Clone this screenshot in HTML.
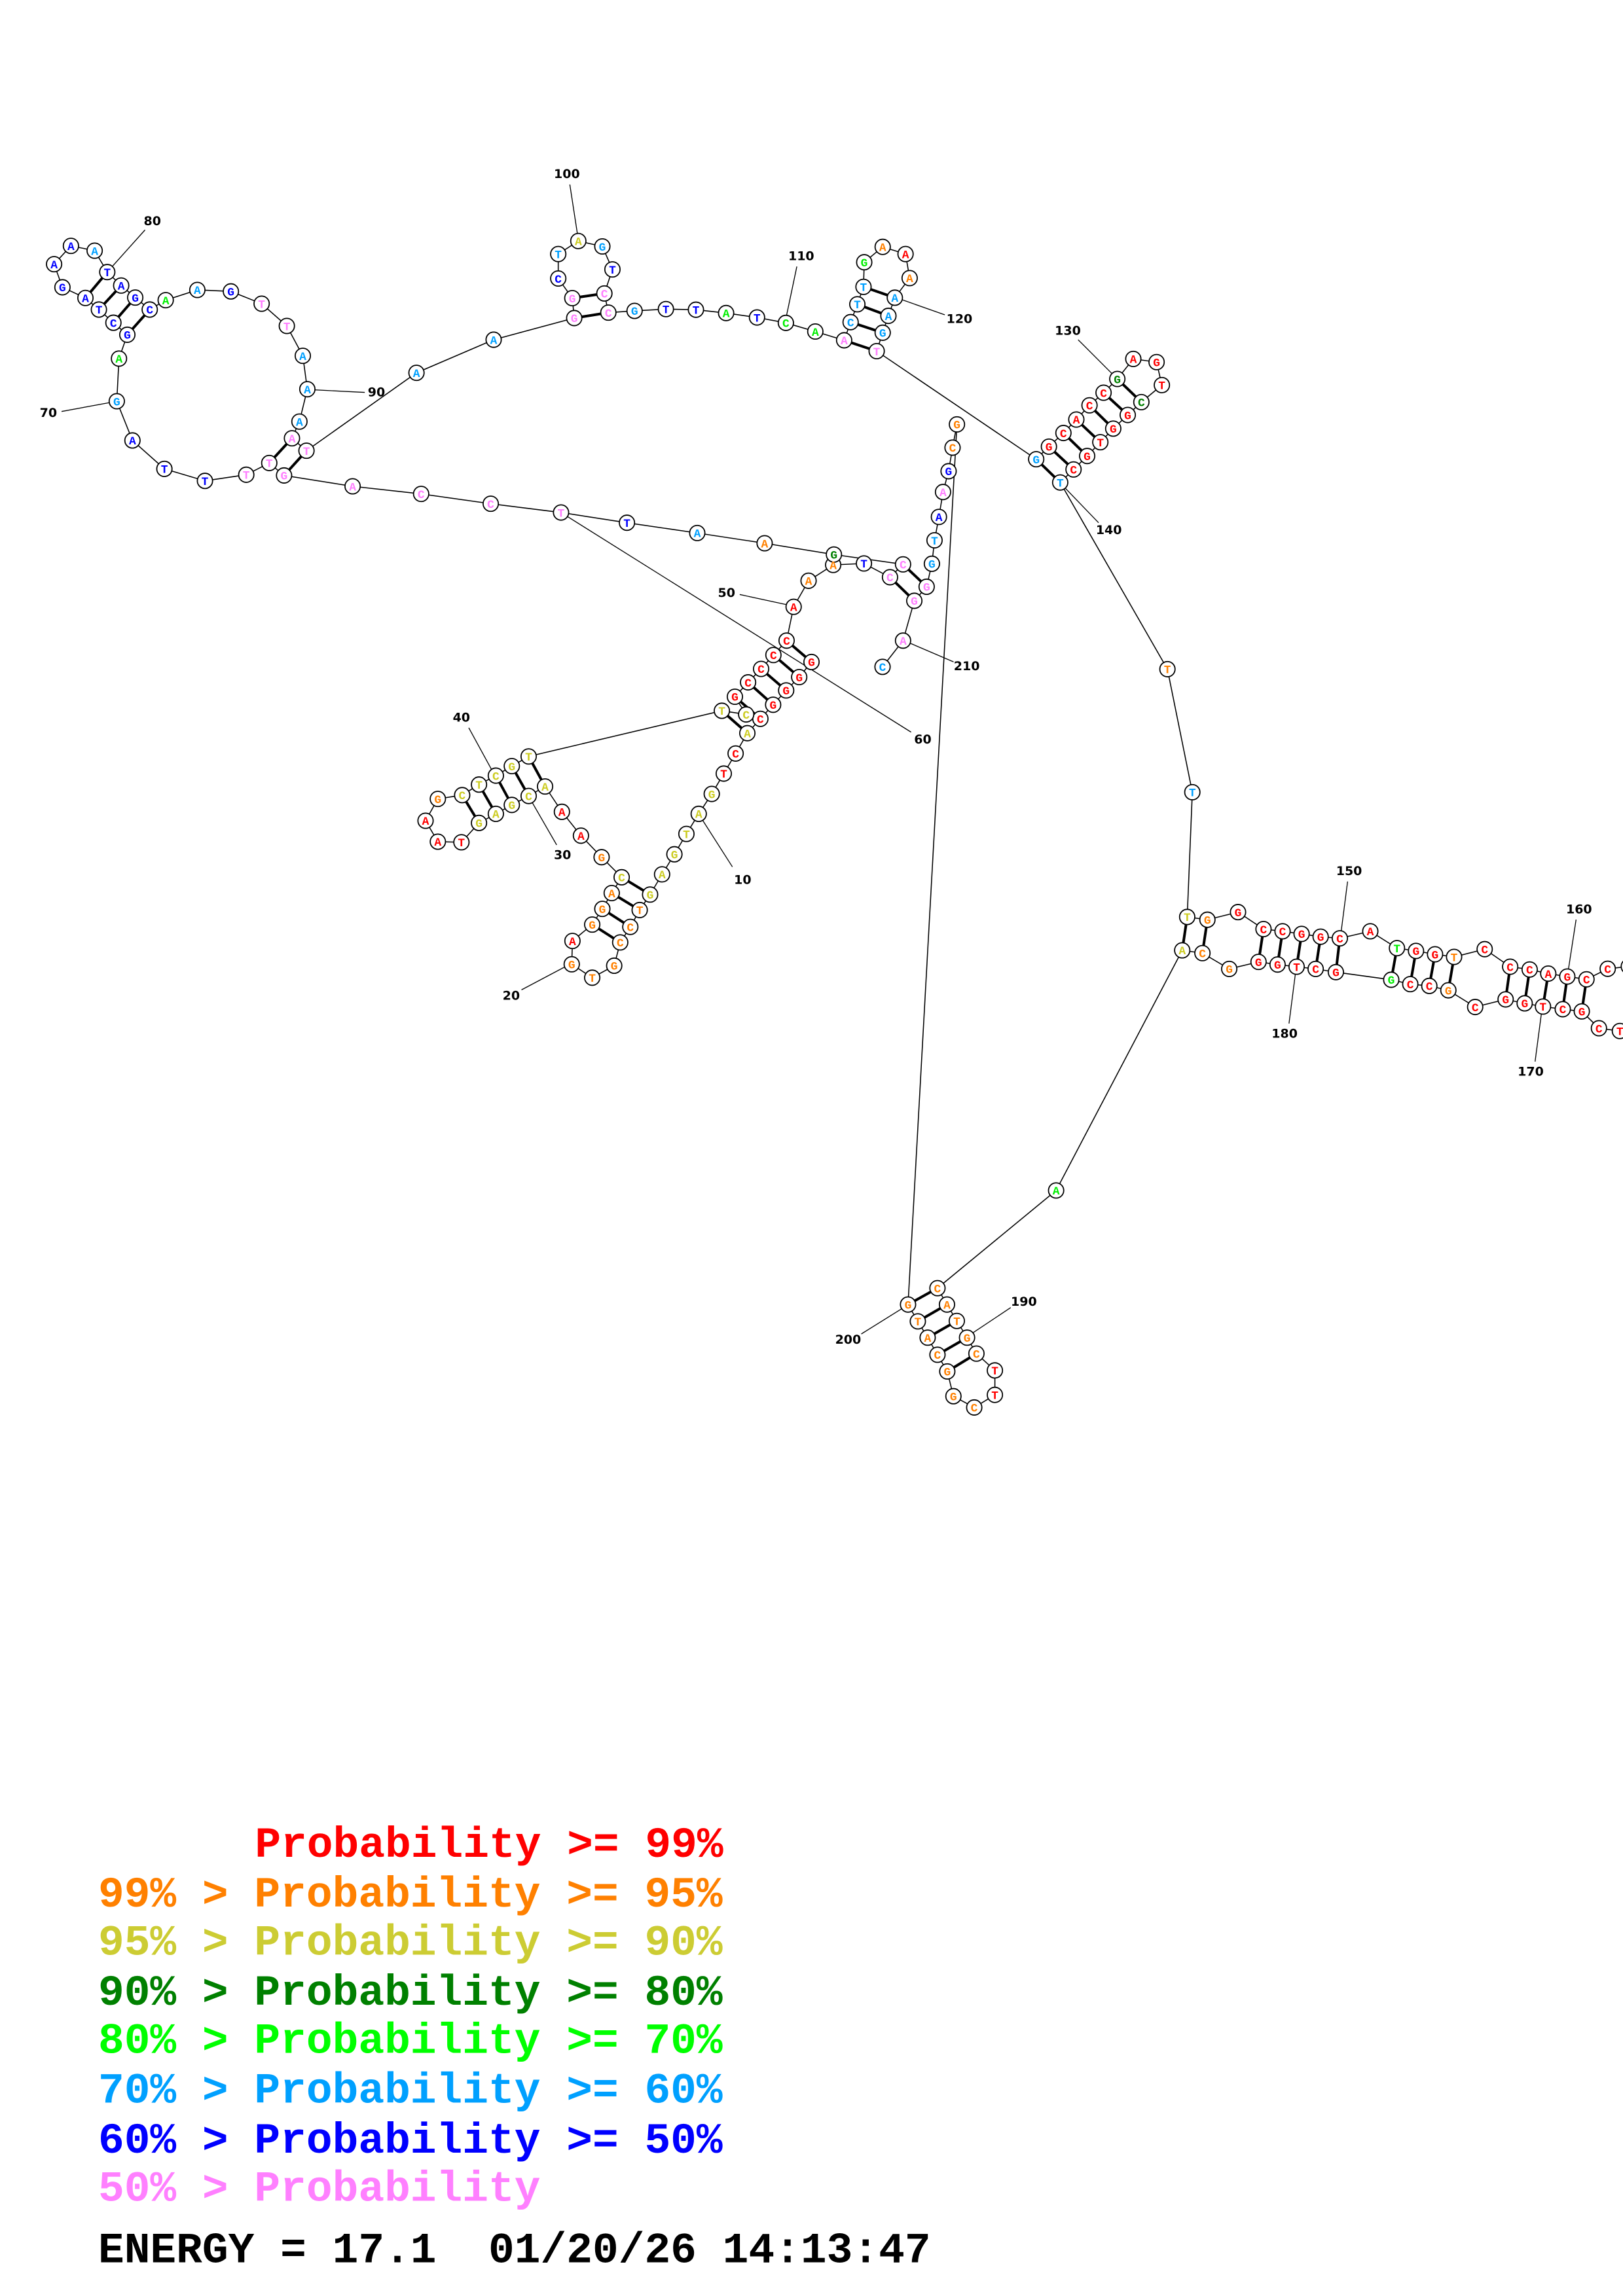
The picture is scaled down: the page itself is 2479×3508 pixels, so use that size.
<!DOCTYPE html>
<html><head><meta charset="utf-8"><style>
html,body{margin:0;padding:0;background:#fff;}
svg{display:block;}
circle{fill:#fff;stroke:#000;stroke-width:.8;}
.n{font-family:"Liberation Mono",monospace;font-weight:bold;font-size:8px;text-anchor:middle;}
.R{fill:#ff0000}.O{fill:#ff8000}.Y{fill:#cccc22}.D{fill:#008000}.G{fill:#00ee00}.C{fill:#00a0ff}.B{fill:#0000ff}.P{fill:#ff80ff}
.l{font-family:"DejaVu Sans","Liberation Sans",sans-serif;font-weight:bold;font-size:8.5px;text-anchor:middle;dominant-baseline:central;}
.lg{font-family:"Courier New","Liberation Mono",monospace;font-weight:bold;font-size:29.6px;white-space:pre;}
</style></head><body>
<svg width="2479" height="3508" viewBox="0 0 1108 1568" xmlns="http://www.w3.org/2000/svg">
<rect width="1108" height="1568" fill="#fff"/>
<polyline fill="none" stroke="#000" stroke-width=".7" points="554,452.1 545.6,462.4 536.7,471.5 527.8,481.3 519.1,490.9 510.2,500.7 502.2,514.6 494.1,528.3 485.9,542.2 477,555.8 468.6,569.5 460.4,583.4 452,597.1 443.8,610.9 436.7,621.5 430.3,633 423.4,643.6 419.3,659.5 404.3,667.7 390.3,658.5 390.8,642.6 404.3,631.4 411.2,620.7 417.6,609.9 424.4,599.1 410.7,585.4 396.6,570.7 383.6,554.4 372.1,537.1 360.9,543.6 349.4,549.7 338.5,555.8 327,562 315,575.2 298.9,574.8 290.5,560.5 298.9,545.6 315.5,543 327,535.8 338.5,529.7 349.4,523.2 360.9,516.6 492.8,485.4 509.4,487.9 501.7,475.8 510.7,466 519.6,456.8 528,447.3 537,437.5 541.8,414.4 552,396.6 568.8,385.8 589.8,384.8 607.6,394.2 616.5,385.4 569.3,378.7 522,371 476,364 428,357 383,350 335,344 287.5,337.3 240.7,332.1 193.9,324.7 183.8,316.2 168.1,324.2 139.9,328.4 112.2,320.2 90.4,300.8 79.7,274 81.2,244.9 86.9,228.6 77.4,220.4 67.5,211.4 58.3,203.5 42.6,196.2 36.9,180.4 48.4,167.9 64.6,171.2 73.2,185.8 82.7,195 92.3,203.2 102.2,211.4 113.1,205 134.7,198 157.6,199 178.6,207.4 195.8,222.6 206.7,243 209.8,265.8 204.4,287.9 199.3,299.3 209.2,307.8 284.3,254.6 337,232 392,217.2 390.7,203.6 381.1,190.2 381.1,173.5 394.8,164.6 411.2,168.3 418.1,184 412.6,200.4 415.3,213.5 433.2,212.3 454.6,211.1 475.1,211.5 495.7,213.8 516.8,216.8 536.5,220.5 556.6,226.4 576.3,232.4 580.7,220 585.3,207.8 589.5,195.9 590,179.1 602.6,168.6 618.2,173.5 621,189.9 610.9,203.3 606.5,215.7 602.6,227.2 598.5,239.8 707.4,313.6 716.1,305 726,295.7 734.8,286.5 743.8,276.8 753.4,268.2 762.8,258.8 773.7,245.1 789.6,247.3 793.2,263 779.2,274.6 769.9,283.4 760,292.7 751.2,302 742.2,311.4 732.9,320.6 723.8,329.5 797,457 814,541 810.5,626.2 824.3,628.1 845.2,622.9 862.6,634.5 875.6,636 888.6,637.8 901.6,639.7 914.7,640.8 935.5,636 953.7,647.5 966.7,649.4 979.7,651.7 992.7,653.5 1013.6,648.2 1031,660.2 1044.3,662.1 1057,664.9 1070,666.9 1083.1,668.8 1097.6,661.6 1112,660 1122,672 1120,690 1105.9,704.1 1091.6,702.2 1079.9,690.7 1066.9,689.2 1053.4,687.4 1040.9,685.2 1027.9,682.5 1007.1,687.7 988.8,676.3 975.8,673.3 962.8,672.1 949.8,669.1 912,663.9 898.2,661.7 885.2,660.2 872.2,658.7 859.2,656.9 839.2,661.7 820.9,650.9 807.1,649 721,813 640,879.7 646.5,890.9 653.2,902.1 660.2,913.5 666.6,924.4 679.2,935.9 679.2,952.6 665.1,961.2 650.9,953.5 646.7,936.6 640,925.2 633.3,913.5 626.6,902.4 619.9,890.9 653.3,289.8 650.3,305.7 647.6,321.8 643.8,336 641,353 638,369 636.2,385 632.6,400.7 624.2,410.3 616.5,437.5 602.5,455.4"/>
<g stroke="#000" stroke-width="1.8">
<line x1="554" y1="452.1" x2="537" y2="437.5"/><line x1="545.6" y1="462.4" x2="528" y2="447.3"/><line x1="536.7" y1="471.5" x2="519.6" y2="456.8"/><line x1="527.8" y1="481.3" x2="510.7" y2="466"/><line x1="519.1" y1="490.9" x2="501.7" y2="475.8"/><line x1="510.2" y1="500.7" x2="492.8" y2="485.4"/>
<line x1="443.8" y1="610.9" x2="424.4" y2="599.1"/><line x1="436.7" y1="621.5" x2="417.6" y2="609.9"/><line x1="430.3" y1="633" x2="411.2" y2="620.7"/><line x1="423.4" y1="643.6" x2="404.3" y2="631.4"/>
<line x1="372.1" y1="537.1" x2="360.9" y2="516.6"/><line x1="360.9" y1="543.6" x2="349.4" y2="523.2"/><line x1="349.4" y1="549.7" x2="338.5" y2="529.7"/><line x1="338.5" y1="555.8" x2="327" y2="535.8"/><line x1="327" y1="562" x2="315.5" y2="543"/>
<line x1="607.6" y1="394.2" x2="624.2" y2="410.3"/><line x1="616.5" y1="385.4" x2="632.6" y2="400.7"/>
<line x1="193.9" y1="324.7" x2="209.2" y2="307.8"/><line x1="183.8" y1="316.2" x2="199.3" y2="299.3"/>
<line x1="86.9" y1="228.6" x2="102.2" y2="211.4"/><line x1="77.4" y1="220.4" x2="92.3" y2="203.2"/><line x1="67.5" y1="211.4" x2="82.7" y2="195"/><line x1="58.3" y1="203.5" x2="73.2" y2="185.8"/>
<line x1="392" y1="217.2" x2="415.3" y2="213.5"/><line x1="390.7" y1="203.6" x2="412.6" y2="200.4"/>
<line x1="576.3" y1="232.4" x2="598.5" y2="239.8"/><line x1="580.7" y1="220" x2="602.6" y2="227.2"/><line x1="585.3" y1="207.8" x2="606.5" y2="215.7"/><line x1="589.5" y1="195.9" x2="610.9" y2="203.3"/>
<line x1="707.4" y1="313.6" x2="723.8" y2="329.5"/><line x1="716.1" y1="305" x2="732.9" y2="320.6"/><line x1="726" y1="295.7" x2="742.2" y2="311.4"/><line x1="734.8" y1="286.5" x2="751.2" y2="302"/><line x1="743.8" y1="276.8" x2="760" y2="292.7"/><line x1="753.4" y1="268.2" x2="769.9" y2="283.4"/><line x1="762.8" y1="258.8" x2="779.2" y2="274.6"/>
<line x1="810.5" y1="626.2" x2="807.1" y2="649"/><line x1="824.3" y1="628.1" x2="820.9" y2="650.9"/><line x1="862.6" y1="634.5" x2="859.2" y2="656.9"/><line x1="875.6" y1="636" x2="872.2" y2="658.7"/><line x1="888.6" y1="637.8" x2="885.2" y2="660.2"/><line x1="901.6" y1="639.7" x2="898.2" y2="661.7"/><line x1="914.7" y1="640.8" x2="912" y2="663.9"/>
<line x1="953.7" y1="647.5" x2="949.8" y2="669.1"/><line x1="966.7" y1="649.4" x2="962.8" y2="672.1"/><line x1="979.7" y1="651.7" x2="975.8" y2="673.3"/><line x1="992.7" y1="653.5" x2="988.8" y2="676.3"/>
<line x1="1031" y1="660.2" x2="1027.9" y2="682.5"/><line x1="1044.3" y1="662.1" x2="1040.9" y2="685.2"/><line x1="1057" y1="664.9" x2="1053.4" y2="687.4"/><line x1="1070" y1="666.9" x2="1066.9" y2="689.2"/><line x1="1083.1" y1="668.8" x2="1079.9" y2="690.7"/>
<line x1="640" y1="879.7" x2="619.9" y2="890.9"/><line x1="646.5" y1="890.9" x2="626.6" y2="902.4"/><line x1="653.2" y1="902.1" x2="633.3" y2="913.5"/><line x1="660.2" y1="913.5" x2="640" y2="925.2"/><line x1="666.6" y1="924.4" x2="646.7" y2="936.6"/>
</g>
<g stroke="#000" stroke-width=".6">
<line x1="477" y1="556" x2="500" y2="592"/><line x1="390" y1="658" x2="356" y2="676"/><line x1="361" y1="544" x2="380" y2="577"/><line x1="338" y1="530" x2="320" y2="497"/><line x1="542" y1="414" x2="505" y2="406"/><line x1="383" y1="350" x2="622" y2="500"/><line x1="80" y1="274" x2="42" y2="281"/><line x1="73" y1="186" x2="99" y2="157"/><line x1="210" y1="266" x2="249" y2="268"/><line x1="395" y1="165" x2="389" y2="126"/><line x1="536" y1="220" x2="544" y2="182"/><line x1="611" y1="203" x2="645" y2="215"/><line x1="763" y1="259" x2="736" y2="232"/><line x1="724" y1="330" x2="750" y2="357"/><line x1="915" y1="641" x2="920" y2="602"/><line x1="1070" y1="667" x2="1076" y2="628"/><line x1="1053" y1="687" x2="1048" y2="725"/><line x1="885" y1="660" x2="880" y2="699"/><line x1="660" y1="913" x2="690" y2="893"/><line x1="620" y1="891" x2="588" y2="911"/><line x1="616" y1="437" x2="651" y2="452"/>
</g>
<g class="l">
<text x="507" y="601">10</text><text x="349" y="680">20</text><text x="384" y="584">30</text><text x="315" y="490">40</text><text x="496" y="405">50</text><text x="630" y="505">60</text><text x="33" y="282">70</text><text x="104" y="151">80</text><text x="257" y="268">90</text><text x="387" y="119">100</text><text x="547" y="175">110</text><text x="655" y="218">120</text><text x="729" y="226">130</text><text x="757" y="362">140</text><text x="921" y="595">150</text><text x="1078" y="621">160</text><text x="1045" y="732">170</text><text x="877" y="706">180</text><text x="699" y="889">190</text><text x="579" y="915">200</text><text x="660" y="455">210</text>
</g>
<g>
<circle cx="554" cy="452.1" r="5.2"/><circle cx="545.6" cy="462.4" r="5.2"/><circle cx="536.7" cy="471.5" r="5.2"/><circle cx="527.8" cy="481.3" r="5.2"/><circle cx="519.1" cy="490.9" r="5.2"/><circle cx="510.2" cy="500.7" r="5.2"/><circle cx="502.2" cy="514.6" r="5.2"/><circle cx="494.1" cy="528.3" r="5.2"/><circle cx="485.9" cy="542.2" r="5.2"/><circle cx="477" cy="555.8" r="5.2"/><circle cx="468.6" cy="569.5" r="5.2"/><circle cx="460.4" cy="583.4" r="5.2"/><circle cx="452" cy="597.1" r="5.2"/><circle cx="443.8" cy="610.9" r="5.2"/><circle cx="436.7" cy="621.5" r="5.2"/><circle cx="430.3" cy="633" r="5.2"/><circle cx="423.4" cy="643.6" r="5.2"/><circle cx="419.3" cy="659.5" r="5.2"/><circle cx="404.3" cy="667.7" r="5.2"/><circle cx="390.3" cy="658.5" r="5.2"/><circle cx="390.8" cy="642.6" r="5.2"/><circle cx="404.3" cy="631.4" r="5.2"/><circle cx="411.2" cy="620.7" r="5.2"/><circle cx="417.6" cy="609.9" r="5.2"/><circle cx="424.4" cy="599.1" r="5.2"/><circle cx="410.7" cy="585.4" r="5.2"/><circle cx="396.6" cy="570.7" r="5.2"/><circle cx="383.6" cy="554.4" r="5.2"/><circle cx="372.1" cy="537.1" r="5.2"/><circle cx="360.9" cy="543.6" r="5.2"/><circle cx="349.4" cy="549.7" r="5.2"/><circle cx="338.5" cy="555.8" r="5.2"/><circle cx="327" cy="562" r="5.2"/><circle cx="315" cy="575.2" r="5.2"/><circle cx="298.9" cy="574.8" r="5.2"/><circle cx="290.5" cy="560.5" r="5.2"/><circle cx="298.9" cy="545.6" r="5.2"/><circle cx="315.5" cy="543" r="5.2"/><circle cx="327" cy="535.8" r="5.2"/><circle cx="338.5" cy="529.7" r="5.2"/><circle cx="349.4" cy="523.2" r="5.2"/><circle cx="360.9" cy="516.6" r="5.2"/><circle cx="492.8" cy="485.4" r="5.2"/><circle cx="509.4" cy="487.9" r="5.2"/><circle cx="501.7" cy="475.8" r="5.2"/><circle cx="510.7" cy="466" r="5.2"/><circle cx="519.6" cy="456.8" r="5.2"/><circle cx="528" cy="447.3" r="5.2"/><circle cx="537" cy="437.5" r="5.2"/><circle cx="541.8" cy="414.4" r="5.2"/><circle cx="552" cy="396.6" r="5.2"/><circle cx="568.8" cy="385.8" r="5.2"/><circle cx="589.8" cy="384.8" r="5.2"/><circle cx="607.6" cy="394.2" r="5.2"/><circle cx="616.5" cy="385.4" r="5.2"/><circle cx="569.3" cy="378.7" r="5.2"/><circle cx="522" cy="371" r="5.2"/><circle cx="476" cy="364" r="5.2"/><circle cx="428" cy="357" r="5.2"/><circle cx="383" cy="350" r="5.2"/><circle cx="335" cy="344" r="5.2"/><circle cx="287.5" cy="337.3" r="5.2"/><circle cx="240.7" cy="332.1" r="5.2"/><circle cx="193.9" cy="324.7" r="5.2"/><circle cx="183.8" cy="316.2" r="5.2"/><circle cx="168.1" cy="324.2" r="5.2"/><circle cx="139.9" cy="328.4" r="5.2"/><circle cx="112.2" cy="320.2" r="5.2"/><circle cx="90.4" cy="300.8" r="5.2"/><circle cx="79.7" cy="274" r="5.2"/><circle cx="81.2" cy="244.9" r="5.2"/><circle cx="86.9" cy="228.6" r="5.2"/><circle cx="77.4" cy="220.4" r="5.2"/><circle cx="67.5" cy="211.4" r="5.2"/><circle cx="58.3" cy="203.5" r="5.2"/><circle cx="42.6" cy="196.2" r="5.2"/><circle cx="36.9" cy="180.4" r="5.2"/><circle cx="48.4" cy="167.9" r="5.2"/><circle cx="64.6" cy="171.2" r="5.2"/><circle cx="73.2" cy="185.8" r="5.2"/><circle cx="82.7" cy="195" r="5.2"/><circle cx="92.3" cy="203.2" r="5.2"/><circle cx="102.2" cy="211.4" r="5.2"/><circle cx="113.1" cy="205" r="5.2"/><circle cx="134.7" cy="198" r="5.2"/><circle cx="157.6" cy="199" r="5.2"/><circle cx="178.6" cy="207.4" r="5.2"/><circle cx="195.8" cy="222.6" r="5.2"/><circle cx="206.7" cy="243" r="5.2"/><circle cx="209.8" cy="265.8" r="5.2"/><circle cx="204.4" cy="287.9" r="5.2"/><circle cx="199.3" cy="299.3" r="5.2"/><circle cx="209.2" cy="307.8" r="5.2"/><circle cx="284.3" cy="254.6" r="5.2"/><circle cx="337" cy="232" r="5.2"/><circle cx="392" cy="217.2" r="5.2"/><circle cx="390.7" cy="203.6" r="5.2"/><circle cx="381.1" cy="190.2" r="5.2"/><circle cx="381.1" cy="173.5" r="5.2"/><circle cx="394.8" cy="164.6" r="5.2"/><circle cx="411.2" cy="168.3" r="5.2"/><circle cx="418.1" cy="184" r="5.2"/><circle cx="412.6" cy="200.4" r="5.2"/><circle cx="415.3" cy="213.5" r="5.2"/><circle cx="433.2" cy="212.3" r="5.2"/><circle cx="454.6" cy="211.1" r="5.2"/><circle cx="475.1" cy="211.5" r="5.2"/><circle cx="495.7" cy="213.8" r="5.2"/><circle cx="516.8" cy="216.8" r="5.2"/><circle cx="536.5" cy="220.5" r="5.2"/><circle cx="556.6" cy="226.4" r="5.2"/><circle cx="576.3" cy="232.4" r="5.2"/><circle cx="580.7" cy="220" r="5.2"/><circle cx="585.3" cy="207.8" r="5.2"/><circle cx="589.5" cy="195.9" r="5.2"/><circle cx="590" cy="179.1" r="5.2"/><circle cx="602.6" cy="168.6" r="5.2"/><circle cx="618.2" cy="173.5" r="5.2"/><circle cx="621" cy="189.9" r="5.2"/><circle cx="610.9" cy="203.3" r="5.2"/><circle cx="606.5" cy="215.7" r="5.2"/><circle cx="602.6" cy="227.2" r="5.2"/><circle cx="598.5" cy="239.8" r="5.2"/><circle cx="707.4" cy="313.6" r="5.2"/><circle cx="716.1" cy="305" r="5.2"/><circle cx="726" cy="295.7" r="5.2"/><circle cx="734.8" cy="286.5" r="5.2"/><circle cx="743.8" cy="276.8" r="5.2"/><circle cx="753.4" cy="268.2" r="5.2"/><circle cx="762.8" cy="258.8" r="5.2"/><circle cx="773.7" cy="245.1" r="5.2"/><circle cx="789.6" cy="247.3" r="5.2"/><circle cx="793.2" cy="263" r="5.2"/><circle cx="779.2" cy="274.6" r="5.2"/><circle cx="769.9" cy="283.4" r="5.2"/><circle cx="760" cy="292.7" r="5.2"/><circle cx="751.2" cy="302" r="5.2"/><circle cx="742.2" cy="311.4" r="5.2"/><circle cx="732.9" cy="320.6" r="5.2"/><circle cx="723.8" cy="329.5" r="5.2"/><circle cx="797" cy="457" r="5.2"/><circle cx="814" cy="541" r="5.2"/><circle cx="810.5" cy="626.2" r="5.2"/><circle cx="824.3" cy="628.1" r="5.2"/><circle cx="845.2" cy="622.9" r="5.2"/><circle cx="862.6" cy="634.5" r="5.2"/><circle cx="875.6" cy="636" r="5.2"/><circle cx="888.6" cy="637.8" r="5.2"/><circle cx="901.6" cy="639.7" r="5.2"/><circle cx="914.7" cy="640.8" r="5.2"/><circle cx="935.5" cy="636" r="5.2"/><circle cx="953.7" cy="647.5" r="5.2"/><circle cx="966.7" cy="649.4" r="5.2"/><circle cx="979.7" cy="651.7" r="5.2"/><circle cx="992.7" cy="653.5" r="5.2"/><circle cx="1013.6" cy="648.2" r="5.2"/><circle cx="1031" cy="660.2" r="5.2"/><circle cx="1044.3" cy="662.1" r="5.2"/><circle cx="1057" cy="664.9" r="5.2"/><circle cx="1070" cy="666.9" r="5.2"/><circle cx="1083.1" cy="668.8" r="5.2"/><circle cx="1097.6" cy="661.6" r="5.2"/><circle cx="1112" cy="660" r="5.2"/><circle cx="1105.9" cy="704.1" r="5.2"/><circle cx="1091.6" cy="702.2" r="5.2"/><circle cx="1079.9" cy="690.7" r="5.2"/><circle cx="1066.9" cy="689.2" r="5.2"/><circle cx="1053.4" cy="687.4" r="5.2"/><circle cx="1040.9" cy="685.2" r="5.2"/><circle cx="1027.9" cy="682.5" r="5.2"/><circle cx="1007.1" cy="687.7" r="5.2"/><circle cx="988.8" cy="676.3" r="5.2"/><circle cx="975.8" cy="673.3" r="5.2"/><circle cx="962.8" cy="672.1" r="5.2"/><circle cx="949.8" cy="669.1" r="5.2"/><circle cx="912" cy="663.9" r="5.2"/><circle cx="898.2" cy="661.7" r="5.2"/><circle cx="885.2" cy="660.2" r="5.2"/><circle cx="872.2" cy="658.7" r="5.2"/><circle cx="859.2" cy="656.9" r="5.2"/><circle cx="839.2" cy="661.7" r="5.2"/><circle cx="820.9" cy="650.9" r="5.2"/><circle cx="807.1" cy="649" r="5.2"/><circle cx="721" cy="813" r="5.2"/><circle cx="640" cy="879.7" r="5.2"/><circle cx="646.5" cy="890.9" r="5.2"/><circle cx="653.2" cy="902.1" r="5.2"/><circle cx="660.2" cy="913.5" r="5.2"/><circle cx="666.6" cy="924.4" r="5.2"/><circle cx="679.2" cy="935.9" r="5.2"/><circle cx="679.2" cy="952.6" r="5.2"/><circle cx="665.1" cy="961.2" r="5.2"/><circle cx="650.9" cy="953.5" r="5.2"/><circle cx="646.7" cy="936.6" r="5.2"/><circle cx="640" cy="925.2" r="5.2"/><circle cx="633.3" cy="913.5" r="5.2"/><circle cx="626.6" cy="902.4" r="5.2"/><circle cx="619.9" cy="890.9" r="5.2"/><circle cx="653.3" cy="289.8" r="5.2"/><circle cx="650.3" cy="305.7" r="5.2"/><circle cx="647.6" cy="321.8" r="5.2"/><circle cx="643.8" cy="336" r="5.2"/><circle cx="641" cy="353" r="5.2"/><circle cx="638" cy="369" r="5.2"/><circle cx="636.2" cy="385" r="5.2"/><circle cx="632.6" cy="400.7" r="5.2"/><circle cx="624.2" cy="410.3" r="5.2"/><circle cx="616.5" cy="437.5" r="5.2"/><circle cx="602.5" cy="455.4" r="5.2"/>
</g>
<g class="n">
<text x="554" y="454.9" class="R">G</text><text x="545.6" y="465.2" class="R">G</text><text x="536.7" y="474.3" class="R">G</text><text x="527.8" y="484.1" class="R">G</text><text x="519.1" y="493.7" class="R">C</text><text x="510.2" y="503.5" class="Y">A</text><text x="502.2" y="517.4" class="R">C</text><text x="494.1" y="531.1" class="R">T</text><text x="485.9" y="545" class="Y">G</text><text x="477" y="558.6" class="Y">A</text><text x="468.6" y="572.3" class="Y">T</text><text x="460.4" y="586.2" class="Y">G</text><text x="452" y="599.9" class="Y">A</text><text x="443.8" y="613.7" class="Y">G</text><text x="436.7" y="624.3" class="O">T</text><text x="430.3" y="635.8" class="O">C</text><text x="423.4" y="646.4" class="O">C</text><text x="419.3" y="662.3" class="O">G</text><text x="404.3" y="670.5" class="O">T</text><text x="390.3" y="661.3" class="O">G</text><text x="390.8" y="645.4" class="R">A</text><text x="404.3" y="634.2" class="O">G</text><text x="411.2" y="623.5" class="O">G</text><text x="417.6" y="612.7" class="O">A</text><text x="424.4" y="601.9" class="Y">C</text><text x="410.7" y="588.2" class="O">G</text><text x="396.6" y="573.5" class="R">A</text><text x="383.6" y="557.2" class="R">A</text><text x="372.1" y="539.9" class="Y">A</text><text x="360.9" y="546.4" class="Y">C</text><text x="349.4" y="552.5" class="Y">G</text><text x="338.5" y="558.6" class="Y">A</text><text x="327" y="564.8" class="Y">G</text><text x="315" y="578" class="R">T</text><text x="298.9" y="577.6" class="R">A</text><text x="290.5" y="563.3" class="R">A</text><text x="298.9" y="548.4" class="O">G</text><text x="315.5" y="545.8" class="Y">C</text><text x="327" y="538.6" class="Y">T</text><text x="338.5" y="532.5" class="Y">C</text><text x="349.4" y="526" class="Y">G</text><text x="360.9" y="519.4" class="Y">T</text><text x="492.8" y="488.2" class="Y">T</text><text x="509.4" y="490.7" class="Y">C</text><text x="501.7" y="478.6" class="R">G</text><text x="510.7" y="468.8" class="R">C</text><text x="519.6" y="459.6" class="R">C</text><text x="528" y="450.1" class="R">C</text><text x="537" y="440.3" class="R">C</text><text x="541.8" y="417.2" class="R">A</text><text x="552" y="399.4" class="O">A</text><text x="568.8" y="388.6" class="O">A</text><text x="589.8" y="387.6" class="B">T</text><text x="607.6" y="397" class="P">C</text><text x="616.5" y="388.2" class="P">C</text><text x="569.3" y="381.5" class="D">G</text><text x="522" y="373.8" class="O">A</text><text x="476" y="366.8" class="C">A</text><text x="428" y="359.8" class="B">T</text><text x="383" y="352.8" class="P">T</text><text x="335" y="346.8" class="P">C</text><text x="287.5" y="340.1" class="P">C</text><text x="240.7" y="334.9" class="P">A</text><text x="193.9" y="327.5" class="P">G</text><text x="183.8" y="319" class="P">T</text><text x="168.1" y="327" class="P">T</text><text x="139.9" y="331.2" class="B">T</text><text x="112.2" y="323" class="B">T</text><text x="90.4" y="303.6" class="B">A</text><text x="79.7" y="276.8" class="C">G</text><text x="81.2" y="247.7" class="G">A</text><text x="86.9" y="231.4" class="B">G</text><text x="77.4" y="223.2" class="B">C</text><text x="67.5" y="214.2" class="B">T</text><text x="58.3" y="206.3" class="B">A</text><text x="42.6" y="199" class="B">G</text><text x="36.9" y="183.2" class="B">A</text><text x="48.4" y="170.7" class="B">A</text><text x="64.6" y="174" class="C">A</text><text x="73.2" y="188.6" class="B">T</text><text x="82.7" y="197.8" class="B">A</text><text x="92.3" y="206" class="B">G</text><text x="102.2" y="214.2" class="B">C</text><text x="113.1" y="207.8" class="G">A</text><text x="134.7" y="200.8" class="C">A</text><text x="157.6" y="201.8" class="B">G</text><text x="178.6" y="210.2" class="P">T</text><text x="195.8" y="225.4" class="P">T</text><text x="206.7" y="245.8" class="C">A</text><text x="209.8" y="268.6" class="C">A</text><text x="204.4" y="290.7" class="C">A</text><text x="199.3" y="302.1" class="P">A</text><text x="209.2" y="310.6" class="P">T</text><text x="284.3" y="257.4" class="C">A</text><text x="337" y="234.8" class="C">A</text><text x="392" y="220" class="P">G</text><text x="390.7" y="206.4" class="P">G</text><text x="381.1" y="193" class="B">C</text><text x="381.1" y="176.3" class="C">T</text><text x="394.8" y="167.4" class="Y">A</text><text x="411.2" y="171.1" class="C">G</text><text x="418.1" y="186.8" class="B">T</text><text x="412.6" y="203.2" class="P">C</text><text x="415.3" y="216.3" class="P">C</text><text x="433.2" y="215.1" class="C">G</text><text x="454.6" y="213.9" class="B">T</text><text x="475.1" y="214.3" class="B">T</text><text x="495.7" y="216.6" class="G">A</text><text x="516.8" y="219.6" class="B">T</text><text x="536.5" y="223.3" class="G">C</text><text x="556.6" y="229.2" class="G">A</text><text x="576.3" y="235.2" class="P">A</text><text x="580.7" y="222.8" class="C">C</text><text x="585.3" y="210.6" class="C">T</text><text x="589.5" y="198.7" class="C">T</text><text x="590" y="181.9" class="G">G</text><text x="602.6" y="171.4" class="O">A</text><text x="618.2" y="176.3" class="R">A</text><text x="621" y="192.7" class="O">A</text><text x="610.9" y="206.1" class="C">A</text><text x="606.5" y="218.5" class="C">A</text><text x="602.6" y="230" class="C">G</text><text x="598.5" y="242.6" class="P">T</text><text x="707.4" y="316.4" class="C">G</text><text x="716.1" y="307.8" class="R">G</text><text x="726" y="298.5" class="R">C</text><text x="734.8" y="289.3" class="R">A</text><text x="743.8" y="279.6" class="R">C</text><text x="753.4" y="271" class="R">C</text><text x="762.8" y="261.6" class="D">G</text><text x="773.7" y="247.9" class="R">A</text><text x="789.6" y="250.1" class="R">G</text><text x="793.2" y="265.8" class="R">T</text><text x="779.2" y="277.4" class="D">C</text><text x="769.9" y="286.2" class="R">G</text><text x="760" y="295.5" class="R">G</text><text x="751.2" y="304.8" class="R">T</text><text x="742.2" y="314.2" class="R">G</text><text x="732.9" y="323.4" class="R">C</text><text x="723.8" y="332.3" class="C">T</text><text x="797" y="459.8" class="O">T</text><text x="814" y="543.8" class="C">T</text><text x="810.5" y="629" class="Y">T</text><text x="824.3" y="630.9" class="O">G</text><text x="845.2" y="625.7" class="R">G</text><text x="862.6" y="637.3" class="R">C</text><text x="875.6" y="638.8" class="R">C</text><text x="888.6" y="640.6" class="R">G</text><text x="901.6" y="642.5" class="R">G</text><text x="914.7" y="643.6" class="R">C</text><text x="935.5" y="638.8" class="R">A</text><text x="953.7" y="650.3" class="G">T</text><text x="966.7" y="652.2" class="R">G</text><text x="979.7" y="654.5" class="R">G</text><text x="992.7" y="656.3" class="O">T</text><text x="1013.6" y="651" class="R">C</text><text x="1031" y="663" class="R">C</text><text x="1044.3" y="664.9" class="R">C</text><text x="1057" y="667.7" class="R">A</text><text x="1070" y="669.7" class="R">G</text><text x="1083.1" y="671.6" class="R">C</text><text x="1097.6" y="664.4" class="R">C</text><text x="1112" y="662.8" class="R">C</text><text x="1105.9" y="706.9" class="R">T</text><text x="1091.6" y="705" class="R">C</text><text x="1079.9" y="693.5" class="R">G</text><text x="1066.9" y="692" class="R">C</text><text x="1053.4" y="690.2" class="R">T</text><text x="1040.9" y="688" class="R">G</text><text x="1027.9" y="685.3" class="R">G</text><text x="1007.1" y="690.5" class="R">C</text><text x="988.8" y="679.1" class="O">G</text><text x="975.8" y="676.1" class="R">C</text><text x="962.8" y="674.9" class="R">C</text><text x="949.8" y="671.9" class="G">G</text><text x="912" y="666.7" class="R">G</text><text x="898.2" y="664.5" class="R">C</text><text x="885.2" y="663" class="R">T</text><text x="872.2" y="661.5" class="R">G</text><text x="859.2" y="659.7" class="R">G</text><text x="839.2" y="664.5" class="O">G</text><text x="820.9" y="653.7" class="O">C</text><text x="807.1" y="651.8" class="Y">A</text><text x="721" y="815.8" class="G">A</text><text x="640" y="882.5" class="O">C</text><text x="646.5" y="893.7" class="O">A</text><text x="653.2" y="904.9" class="O">T</text><text x="660.2" y="916.3" class="O">G</text><text x="666.6" y="927.2" class="O">C</text><text x="679.2" y="938.7" class="R">T</text><text x="679.2" y="955.4" class="R">T</text><text x="665.1" y="964" class="O">C</text><text x="650.9" y="956.3" class="O">G</text><text x="646.7" y="939.4" class="O">G</text><text x="640" y="928" class="O">C</text><text x="633.3" y="916.3" class="O">A</text><text x="626.6" y="905.2" class="O">T</text><text x="619.9" y="893.7" class="O">G</text><text x="653.3" y="292.6" class="O">G</text><text x="650.3" y="308.5" class="O">C</text><text x="647.6" y="324.6" class="B">G</text><text x="643.8" y="338.8" class="P">A</text><text x="641" y="355.8" class="B">A</text><text x="638" y="371.8" class="C">T</text><text x="636.2" y="387.8" class="C">G</text><text x="632.6" y="403.5" class="P">G</text><text x="624.2" y="413.1" class="P">G</text><text x="616.5" y="440.3" class="P">A</text><text x="602.5" y="458.2" class="C">C</text>
</g>
<g class="lg">
<text x="174" y="1268" fill="#ff0000">Probability &gt;= 99%</text>
<text x="67" y="1302" fill="#ff8000">99% &gt; Probability &gt;= 95%</text>
<text x="67" y="1335" fill="#cccc33">95% &gt; Probability &gt;= 90%</text>
<text x="67" y="1369" fill="#008000">90% &gt; Probability &gt;= 80%</text>
<text x="67" y="1402" fill="#00ff00">80% &gt; Probability &gt;= 70%</text>
<text x="67" y="1436" fill="#00a0ff">70% &gt; Probability &gt;= 60%</text>
<text x="67" y="1470" fill="#0000ff">60% &gt; Probability &gt;= 50%</text>
<text x="67" y="1503" fill="#ff80ff">50% &gt; Probability</text>
<text x="67" y="1545" fill="#000">ENERGY = 17.1 &#160;01/20/26 14:13:47</text>
</g>
</svg>
</body></html>
